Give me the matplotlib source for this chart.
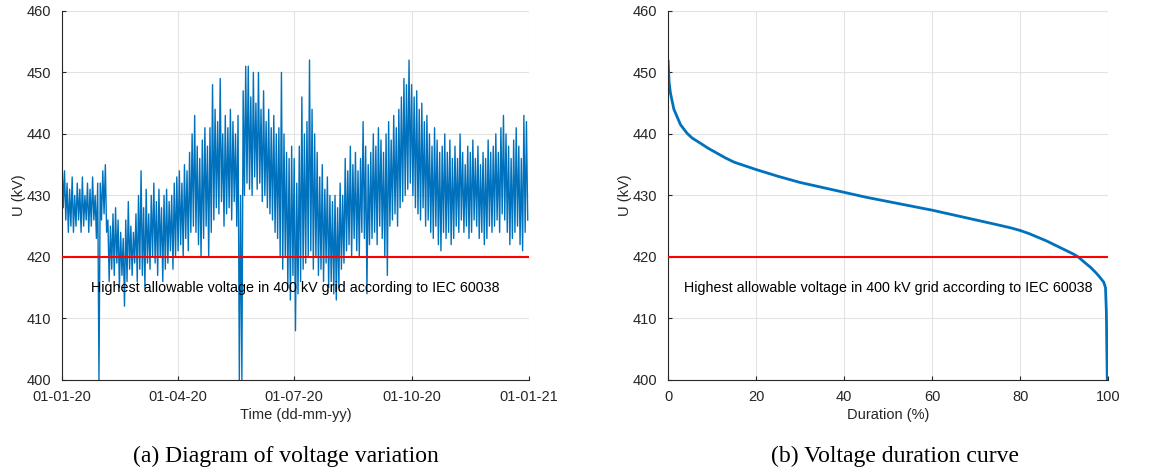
import numpy as np
import pandas as pd
import matplotlib
matplotlib.use("Agg")
import matplotlib.pyplot as plt
import matplotlib.dates as mdates

# two-day blocks over 2020: upper and lower swing of the measured voltage (kV)
u_peak = [
    436, 434, 432, 431, 433, 430, 432, 431, 433, 430, 432, 431, 433, 430, 432, 432,  # jan
    434, 435, 426, 425, 427, 428, 426, 424, 423, 426, 429, 425, 424, 427,            # feb
    430, 434, 428, 431, 427, 430, 432, 429, 431, 428, 430, 431, 429, 430, 432, 433,  # mar
    434, 432, 435, 434, 437, 440, 443, 438, 436, 439, 441, 438, 441, 448, 444,       # apr
    442, 449, 440, 443, 441, 444, 442, 440, 443, 430, 447, 451, 451, 446, 450,       # may
    445, 450, 444, 447, 442, 444, 441, 443, 440, 441, 450, 440, 437, 436, 438,       # jun
    436, 432, 438, 446, 440, 442, 452, 444, 440, 437, 433, 435, 431, 433, 430, 429,  # jul
    430, 428, 432, 430, 436, 434, 438, 435, 437, 434, 436, 442, 438, 435, 437,       # aug
    440, 438, 441, 439, 437, 440, 442, 439, 443, 441, 444, 446, 449, 448, 452,       # sep
    448, 446, 447, 444, 445, 442, 443, 440, 438, 441, 439, 437, 438, 440, 437, 439,  # oct
    436, 438, 436, 440, 437, 435, 438, 437, 439, 436, 438, 435, 437, 436, 439,       # nov
    437, 438, 440, 437, 441, 443, 440, 438, 436, 439, 441, 438, 436, 443, 442,       # dec
]
u_dip = [
    428, 426, 424, 425, 424, 425, 426, 424, 425, 426, 424, 425, 426, 423, 400, 426,
    427, 424, 416, 418, 417, 419, 415, 417, 412, 416, 418, 417, 419, 416,
    418, 417, 415, 419, 418, 420, 419, 417, 420, 416, 418, 419, 421, 418, 420, 421,
    422, 420, 423, 421, 424, 425, 424, 422, 420, 423, 425, 420, 424, 426, 428,
    427, 429, 425, 427, 428, 426, 429, 425, 400, 400, 430, 432, 431, 430, 433,
    431, 432, 429, 430, 428, 427, 426, 424, 423, 420, 418, 420, 415, 413, 417,
    408, 414, 416, 418, 419, 420, 421, 418, 420, 417, 418, 416, 419, 415, 416, 414,
    413, 415, 418, 419, 421, 422, 420, 423, 421, 420, 424, 423, 414, 422, 423,
    424, 422, 425, 423, 420, 417, 425, 426, 427, 425, 428, 429, 430, 431, 432,
    430, 428, 427, 426, 428, 425, 426, 424, 423, 425, 422, 421, 424, 423, 424, 422,
    423, 425, 424, 426, 424, 425, 423, 424, 426, 425, 423, 424, 422, 423, 425,
    424, 425, 426, 424, 427, 426, 424, 422, 423, 424, 425, 422, 421, 424, 426,
]

# duration curve
duration_pct = [0, 0.2, 0.5, 1.3, 2.8, 4.3, 5.5, 7.3, 9, 11, 13, 15, 20, 25, 30, 35,
                40, 45, 50, 55, 60, 65, 70, 75, 78, 80, 82, 84, 86, 88, 90, 92, 93.2,
                94.5, 96, 97, 98, 99, 99.4, 99.6, 99.7, 99.8]
duration_u = [451.8, 448.5, 446.7, 444, 441.5, 440.1, 439.3, 438.5, 437.7, 436.9, 436.1,
              435.4, 434.2, 433.1, 432.1, 431.3, 430.5, 429.7, 429, 428.3, 427.6, 426.8,
              426, 425.2, 424.7, 424.3, 423.8, 423.2, 422.6, 421.9, 421.2, 420.5, 420,
              419.2, 418.3, 417.6, 416.8, 415.9, 415, 411, 405, 400]

u_limit = 420
limit_text = "Highest allowable voltage in 400 kV grid according to IEC 60038"

start = pd.Timestamp("2020-01-01")
t = []
u = []
for i in range(len(u_peak)):
    t.append(start + pd.Timedelta(days=2 * i))
    u.append(u_peak[i])
    t.append(start + pd.Timedelta(days=2 * i + 1))
    u.append(u_dip[i])

plt.rcParams["font.family"] = ["Liberation Sans", "DejaVu Sans"]
blue = "#0072BD"
dark = "#262626"

fig = plt.figure(figsize=(11.56, 4.72), dpi=100)
ax1 = fig.add_axes([0.0536, 0.195, 0.404, 0.782])
ax2 = fig.add_axes([0.578, 0.195, 0.3806, 0.782])

ax1.plot(t, u, color=blue, lw=1.0)
ax1.set_xlim(pd.Timestamp("2020-01-01"), pd.Timestamp("2021-01-01"))
ax1.xaxis.set_major_locator(mdates.MonthLocator(bymonth=[1, 4, 7, 10]))
ax1.xaxis.set_major_formatter(mdates.DateFormatter("%d-%m-%y"))
ax1.set_xlabel("Time (dd-mm-yy)", labelpad=3)

ax2.plot(duration_pct, duration_u, color=blue, lw=2.0)
ax2.set_xlim(0, 100)
ax2.set_xlabel("Duration (%)", labelpad=3)

for ax in (ax1, ax2):
    ax.axhline(u_limit, color="red", lw=1.5, zorder=3)
    ax.set_ylim(400, 460)
    ax.set_yticks(range(400, 461, 10))
    ax.set_ylabel("U (kV)", color=dark, fontsize=10.5, labelpad=0)
    ax.xaxis.label.set_color(dark)
    ax.xaxis.label.set_size(10.5)
    ax.grid(True, color="#e3e3e3", lw=0.8)
    ax.set_axisbelow(True)
    ax.spines["top"].set_visible(False)
    ax.spines["right"].set_visible(False)
    for s in ("left", "bottom"):
        ax.spines[s].set_color(dark)
        ax.spines[s].set_linewidth(0.8)
    ax.tick_params(direction="in", length=3, colors=dark, labelsize=10.5)
    ax.tick_params(axis="x", pad=7)
    ax.tick_params(axis="y", pad=8)
    ax.text(0.5, 415, limit_text, transform=ax.get_yaxis_transform(),
            ha="center", va="center", fontsize=10.3, color="black")

fig.text(0.247, 0.032, "(a) Diagram of voltage variation", ha="center", va="center",
         fontsize=17, family="Liberation Serif")
fig.text(0.774, 0.032, "(b) Voltage duration curve", ha="center", va="center",
         fontsize=17, family="Liberation Serif")

fig.savefig("out.png", dpi=100)
